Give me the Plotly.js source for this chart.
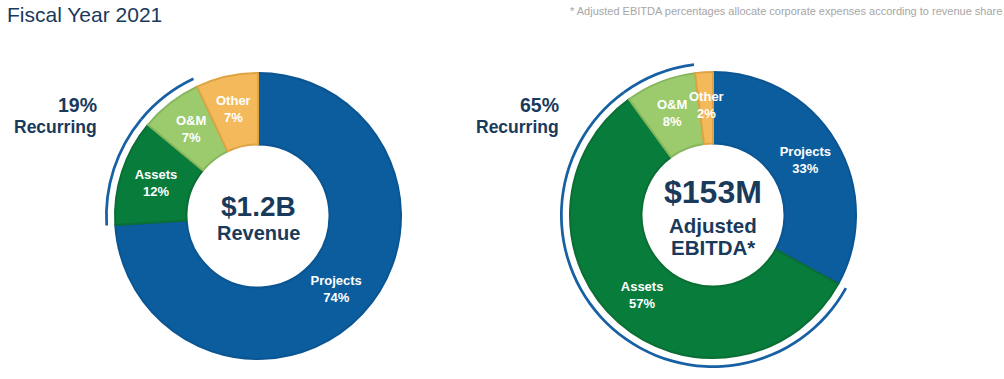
<!DOCTYPE html>
<html>
<head>
<meta charset="utf-8">
<script src="https://cdn.plot.ly/plotly-3.0.1.min.js"></script>
<style>html,body{margin:0;padding:0;background:#fff;}#chart{width:1004px;height:379px;}</style>
</head>
<body>
<div id="chart"></div>
<script>
// ---- data ----
const segments = ['Projects', 'Assets', 'O&M', 'Other'];
const revenueShare = [74, 12, 7, 7];
const ebitdaShare = [33, 57, 8, 2];
const recurringSegments = ['Assets', 'O&M'];
const revenueCenter = ['$1.2B', 'Revenue'];
const ebitdaCenter = ['$153M', 'Adjusted', 'EBITDA*'];
const chartTitle = 'Fiscal Year 2021';
const footnote = '* Adjusted EBITDA percentages allocate corporate expenses according to revenue share';

// ---- styles ----
const W = 1004, H = 379;
const FONT = 'Liberation Sans, Arial, sans-serif';
const NAVY = '#1a3a5c';
const ARC = '#1660a3';
const fill = ['#0c5d9e', '#087c3b', '#9ccb6e', '#f3b95b'];
const edge = ['#0a5592', '#0a6e35', '#86b65c', '#dea443'];
const SMALL = 10; // slices below this share get their label placed by annotation
const R = 143, RARC = 153;
const L = {cx: 258, cy: 216}, Rt = {cx: 713, cy: 215};

function dom(cx, cy, r) {
  return {x: [(cx - r) / W, (cx + r) / W], y: [(H - cy - r) / H, (H - cy + r) / H]};
}
function recurringPct(vals) {
  return vals.reduce((s, v, i) => s + (recurringSegments.includes(segments[i]) ? v : 0), 0);
}
function label(i, v) { return '<b>' + segments[i] + '</b><br><b>' + v + '%</b>'; }
function donut(vals, c) {
  return {
    type: 'pie', values: vals, labels: segments, sort: false, direction: 'clockwise', rotation: 0,
    hole: 0.5, domain: dom(c.cx, c.cy, R),
    marker: {colors: fill, line: {color: edge, width: 2}},
    text: vals.map((v, i) => v < SMALL ? '' : label(i, v)),
    textinfo: 'text', textposition: vals.map(v => v < SMALL ? 'none' : 'inside'),
    insidetextorientation: 'horizontal',
    textfont: {family: FONT, size: 13, color: '#ffffff'},
    hoverinfo: 'label+percent'
  };
}
function arc(vals, c) {
  return {
    type: 'pie', values: vals, labels: segments, sort: false, direction: 'clockwise', rotation: 0,
    hole: 0.982, domain: dom(c.cx, c.cy, RARC),
    marker: {colors: segments.map(s => recurringSegments.includes(s) ? ARC : 'rgba(0,0,0,0)'), line: {width: 0}},
    textinfo: 'none', hoverinfo: 'skip'
  };
}
// labels for narrow slices, positioned at the slice's mid-angle within the ring
function smallLabels(vals, c) {
  const total = vals.reduce((a, b) => a + b, 0);
  let cum = 0; const out = [];
  vals.forEach((v, i) => {
    const mid = (cum + v / 2) / total * 2 * Math.PI; cum += v;
    if (v >= SMALL) return;
    const rr = 0.77 * R;
    const px = c.cx + rr * Math.sin(mid), py = c.cy - rr * Math.cos(mid);
    out.push({text: label(i, v), xref: 'paper', yref: 'paper', x: px / W, y: 1 - py / H,
      xanchor: 'center', yanchor: 'middle', showarrow: false,
      font: {family: FONT, size: 13, color: '#ffffff'}});
  });
  return out;
}
function centerLine(text, c, dy, size) {
  return {text: '<b>' + text + '</b>', xref: 'paper', yref: 'paper', x: c.cx / W, y: 1 - (c.cy + dy) / H,
    xanchor: 'center', yanchor: 'middle', showarrow: false, font: {family: FONT, size: size, color: NAVY}};
}
function recurringNote(vals, xRight) {
  return [
    {text: '<b>' + recurringPct(vals) + '%</b>', xref: 'paper', yref: 'paper', x: xRight / W, y: 1 - 105 / H,
     xanchor: 'right', yanchor: 'middle', showarrow: false, font: {family: FONT, size: 19.5, color: NAVY}},
    {text: '<b>Recurring</b>', xref: 'paper', yref: 'paper', x: xRight / W, y: 1 - 127 / H,
     xanchor: 'right', yanchor: 'middle', showarrow: false, font: {family: FONT, size: 17.5, color: NAVY}}
  ];
}

const data = [
  arc(revenueShare, L), donut(revenueShare, L),
  arc(ebitdaShare, Rt), donut(ebitdaShare, Rt)
];

const layout = {
  width: W, height: H, margin: {l: 0, r: 0, t: 0, b: 0},
  paper_bgcolor: '#ffffff', showlegend: false,
  uniformtext: {mode: 'show', minsize: 13},
  font: {family: FONT},
  annotations: [
    {text: chartTitle, xref: 'paper', yref: 'paper', x: 5 / W, y: 1 - 1 / H, xanchor: 'left', yanchor: 'top',
     showarrow: false, font: {family: FONT, size: 21, color: NAVY}},
    {text: footnote, xref: 'paper', yref: 'paper', x: 1, y: 1 - 3 / H, xanchor: 'right', yanchor: 'top',
     showarrow: false, font: {family: FONT, size: 11, color: '#a6a6a6'}},
    centerLine(revenueCenter[0], L, -10, 28),
    centerLine(revenueCenter[1], L, 17, 20),
    centerLine(ebitdaCenter[0], Rt, -23, 32),
    centerLine(ebitdaCenter[1], Rt, 10, 20.5),
    centerLine(ebitdaCenter[2], Rt, 32, 20.5)
  ].concat(recurringNote(revenueShare, 99), recurringNote(ebitdaShare, 561),
           smallLabels(revenueShare, L), smallLabels(ebitdaShare, Rt))
};

Plotly.newPlot('chart', data, layout, {displayModeBar: false, staticPlot: true});
</script>
</body>
</html>
